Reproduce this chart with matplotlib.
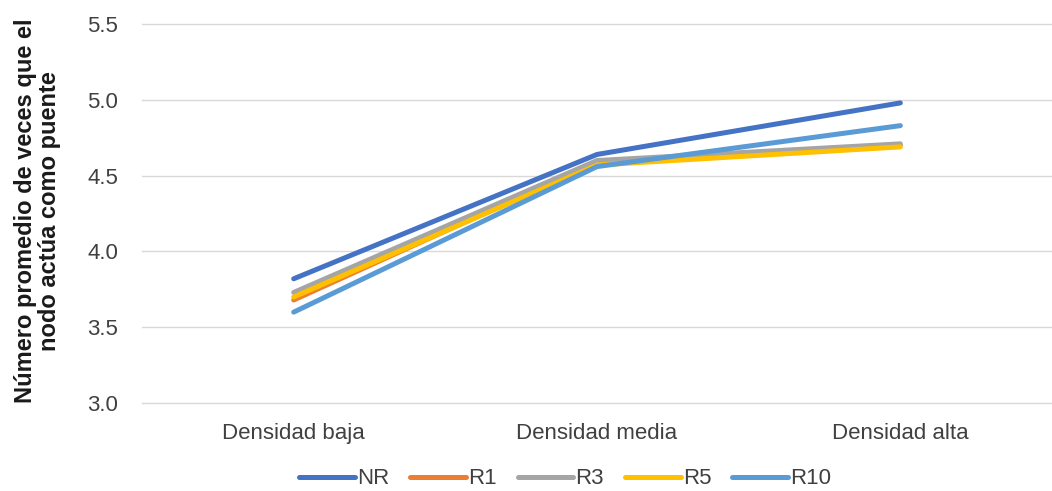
import matplotlib
matplotlib.use("Agg")
import matplotlib.pyplot as plt

plt.rcParams['font.family'] = ['Liberation Sans', 'DejaVu Sans']

categories = ["Densidad baja", "Densidad media", "Densidad alta"]
series_names = ["NR", "R1", "R3", "R5", "R10"]
nr = [3.82, 4.64, 4.98]
r1 = [3.68, 4.59, 4.70]
r3 = [3.73, 4.60, 4.71]
r5 = [3.70, 4.57, 4.69]
r10 = [3.60, 4.56, 4.83]
y_ticks = [3.0, 3.5, 4.0, 4.5, 5.0, 5.5]

colors = ["#4472C4", "#ED7D31", "#A5A5A5", "#FFC000", "#5B9BD5"]

fig = plt.figure(figsize=(10.52, 4.91), dpi=100)
ax = fig.add_axes([0.135, 0.179, 0.865, 0.772])

x = list(range(len(categories)))
for name, vals, c in zip(series_names, [nr, r1, r3, r5, r10], colors):
    ax.plot(x, vals, color=c, lw=3.6, solid_capstyle='round', label=name)

ax.set_xlim(-0.5, 2.5)
ax.set_ylim(3.0, 5.5)
ax.set_yticks(y_ticks)
ax.set_yticklabels([f"{v:.1f}" for v in y_ticks])
ax.set_xticks(x)
ax.set_xticklabels(categories)
ax.tick_params(axis='both', length=0, labelsize=16, colors='#404040')
ax.tick_params(axis='x', pad=14)
ax.tick_params(axis='y', pad=17)
ax.grid(axis='y', color='#D9D9D9', lw=1)
for gl in ax.yaxis.get_gridlines():
    gl.set_clip_on(False)
ax.set_axisbelow(True)
for s in ax.spines.values():
    s.set_visible(False)

fig.text(0.036, 0.57, "Número promedio de veces que el\nnodo actúa como puente",
         rotation=90, ha='center', va='center', multialignment='center',
         fontsize=17, fontweight='bold', color='#1a1a1a', linespacing=1.05)

leg = ax.legend(loc='center', bbox_to_anchor=(0.465, -0.2), ncol=5,
                frameon=False, fontsize=16, handlelength=2.5,
                columnspacing=0.95, handletextpad=0.1)
for t in leg.get_texts():
    t.set_color('#404040')

fig.savefig("out.png", dpi=100)
